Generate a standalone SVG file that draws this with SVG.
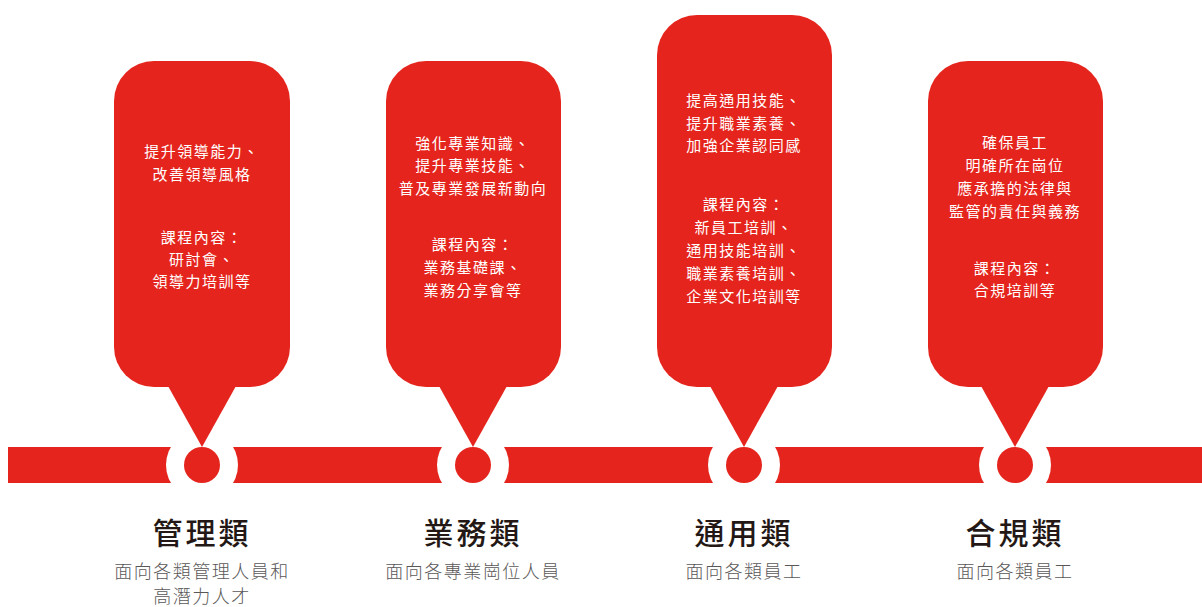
<svg xmlns="http://www.w3.org/2000/svg" width="1202" height="607" viewBox="0 0 1202 607">
<style>
.red{fill:#E5251D}
.wh{fill:#FFFFFF}
.bt{font-family:"Noto Sans CJK TC","Noto Sans CJK SC",sans-serif;font-size:15px;fill:#FFFFFF;text-anchor:middle;letter-spacing:1.5px}
.tt{font-family:"Noto Sans CJK TC","Noto Sans CJK SC",sans-serif;font-size:30px;font-weight:500;fill:#231815;text-anchor:middle;letter-spacing:3px}
.st{font-family:"Noto Sans CJK TC","Noto Sans CJK SC",sans-serif;font-size:18px;font-weight:300;fill:#595757;text-anchor:middle;letter-spacing:1.5px}
</style>
<rect width="1202" height="607" fill="#FFFFFF"/>
<g id="connectors">
<rect class="red" x="8" y="447" width="1194" height="36"/>
<circle class="wh" cx="202" cy="465" r="36"/>
<circle class="wh" cx="473" cy="465" r="36"/>
<circle class="wh" cx="744" cy="465" r="36"/>
<circle class="wh" cx="1015" cy="465" r="36"/>
</g>
<g id="node-management">
<rect class="red" x="114" y="61" width="176" height="326" rx="40"/>
<polygon class="red" points="168,386 236,386 202,447"/>
<circle class="red" cx="202" cy="465" r="18"/>
<text class="bt"><tspan x="202" y="157">提升領導能力、</tspan><tspan x="202" y="180">改善領導風格</tspan><tspan x="202" y="243">課程內容：</tspan><tspan x="202" y="265">研討會、</tspan><tspan x="202" y="287">領導力培訓等</tspan></text>
<text class="tt" x="202" y="544">管理類</text>
<text class="st" x="202" y="578">面向各類管理人員和</text>
<text class="st" x="202" y="603">高潛力人才</text>
</g>
<g id="node-business">
<rect class="red" x="386" y="61" width="175" height="326" rx="40"/>
<polygon class="red" points="439,386 507,386 473,447"/>
<circle class="red" cx="473" cy="465" r="18"/>
<text class="bt"><tspan x="473" y="149">強化專業知識、</tspan><tspan x="473" y="171">提升專業技能、</tspan><tspan x="473" y="194">普及專業發展新動向</tspan><tspan x="473" y="250">課程內容：</tspan><tspan x="473" y="273">業務基礎課、</tspan><tspan x="473" y="296">業務分享會等</tspan></text>
<text class="tt" x="473" y="544">業務類</text>
<text class="st" x="473" y="578">面向各專業崗位人員</text>
</g>
<g id="node-general">
<rect class="red" x="657" y="15" width="175" height="372" rx="40"/>
<polygon class="red" points="710,386 778,386 744,447"/>
<circle class="red" cx="744" cy="465" r="18"/>
<text class="bt"><tspan x="744" y="106">提高通用技能、</tspan><tspan x="744" y="129">提升職業素養、</tspan><tspan x="744" y="151">加強企業認同感</tspan><tspan x="744" y="210">課程內容：</tspan><tspan x="744" y="233">新員工培訓、</tspan><tspan x="744" y="256">通用技能培訓、</tspan><tspan x="744" y="279">職業素養培訓、</tspan><tspan x="744" y="302">企業文化培訓等</tspan></text>
<text class="tt" x="744" y="544">通用類</text>
<text class="st" x="744" y="578">面向各類員工</text>
</g>
<g id="node-compliance">
<rect class="red" x="928" y="61" width="175" height="326" rx="40"/>
<polygon class="red" points="981,386 1049,386 1015,447"/>
<circle class="red" cx="1015" cy="465" r="18"/>
<text class="bt"><tspan x="1015" y="148">確保員工</tspan><tspan x="1015" y="171">明確所在崗位</tspan><tspan x="1015" y="194">應承擔的法律與</tspan><tspan x="1015" y="217">監管的責任與義務</tspan><tspan x="1015" y="274">課程內容：</tspan><tspan x="1015" y="296">合規培訓等</tspan></text>
<text class="tt" x="1015" y="544">合規類</text>
<text class="st" x="1015" y="578">面向各類員工</text>
</g>
</svg>
